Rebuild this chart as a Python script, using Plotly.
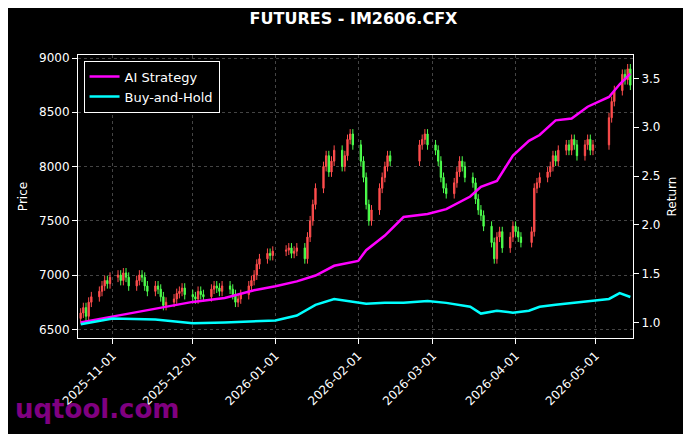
import pandas as pd
import plotly.graph_objects as go

# trading days (weekdays, minus holidays)
days = pd.bdate_range("2025-10-20", "2026-05-14")
holidays = pd.to_datetime(["2026-01-01", "2026-01-02", "2026-02-16", "2026-02-17", "2026-02-18",
                           "2026-02-19", "2026-02-20", "2026-02-23", "2026-04-06",
                           "2026-05-01", "2026-05-04", "2026-05-05"])
days = days[~days.isin(holidays)]

close = [
    # Oct
    6650, 6700, 6620, 6750, 6800, 6850, 6900, 6950, 6920, 6980,
    # Nov
    7000, 6950, 7020, 6980, 6900, 6950, 7000, 6980, 6900, 6850,
    6900, 6870, 6800, 6720, 6750, 6780, 6830, 6850, 6880, 6820,
    # Dec
    6800, 6780, 6850, 6820, 6800, 6870, 6900, 6880, 6850, 6900,
    6870, 6820, 6750, 6780, 6820, 6900, 6950, 7000, 7100, 7150,
    7200, 7180, 7220,
    # Jan
    7230, 7250, 7200, 7220, 7250, 7150, 7350, 7500, 7650, 7800,
    8000, 8100, 7950, 8050, 8150, 8000, 8100, 8250, 8300, 8200,
    # Feb
    8050, 7900, 7650, 7500, 7600, 7800, 7900, 8000, 8100, 8050,
    8200, 8250, 8300, 8200,
    # Mar
    8150, 8050, 7900, 7800, 7750, 7850, 7950, 8050, 8000, 7900,
    7850, 7700, 7600, 7550, 7450, 7300, 7150, 7350, 7400, 7250,
    7350, 7450,
    # Apr
    7400, 7350, 7300, 7400, 7800, 7850, 7900, 7950, 8000, 8100,
    8050, 8150, 8200, 8150, 8250, 8200, 8100, 8200, 8250, 8150,
    8200,
    # May
    8450, 8600, 8700, 8850, 8800, 8900, 8750,
]
open_ = [6600] + close[:-1]
high = [max(o, c) + 45 for o, c in zip(open_, close)]
low = [min(o, c) - 45 for o, c in zip(open_, close)]

ret_dates = pd.to_datetime([
    "2025-10-20", "2025-11-01", "2025-11-17", "2025-12-01", "2025-12-13", "2025-12-24",
    "2026-01-01", "2026-01-09", "2026-01-16", "2026-01-23", "2026-02-01", "2026-02-04",
    "2026-02-11", "2026-02-18", "2026-02-27", "2026-03-06", "2026-03-15", "2026-03-19",
    "2026-03-25", "2026-03-31", "2026-04-06", "2026-04-10", "2026-04-16", "2026-04-22",
    "2026-04-28", "2026-05-06", "2026-05-10", "2026-05-14",
])
ai_ret = [1.00, 1.06, 1.14, 1.21, 1.25, 1.33, 1.37, 1.42, 1.48, 1.58, 1.63, 1.74,
          1.89, 2.08, 2.11, 2.16, 2.29, 2.39, 2.45, 2.71, 2.86, 2.92, 3.07, 3.09,
          3.21, 3.31, 3.44, 3.55]
bh_ret = [0.98, 1.04, 1.03, 0.99, 1.00, 1.01, 1.02, 1.07, 1.18, 1.24, 1.20, 1.19,
          1.20, 1.20, 1.22, 1.20, 1.16, 1.09, 1.12, 1.10, 1.12, 1.16, 1.18, 1.20,
          1.22, 1.24, 1.30, 1.26]

fig = go.Figure()
fig.add_trace(go.Candlestick(
    x=days, open=open_, high=high, low=low, close=close,
    increasing=dict(line=dict(color="#ff4d4d", width=1), fillcolor="#ff4d4d"),
    decreasing=dict(line=dict(color="#4dff4d", width=1), fillcolor="#4dff4d"),
    showlegend=False, whiskerwidth=0,
))
fig.add_trace(go.Scatter(x=ret_dates, y=ai_ret, name="AI Strategy", yaxis="y2",
                         mode="lines", line=dict(color="#ff00ff", width=2.5)))
fig.add_trace(go.Scatter(x=ret_dates, y=bh_ret, name="Buy-and-Hold", yaxis="y2",
                         mode="lines", line=dict(color="#00ffff", width=2.5)))

axis_common = dict(showline=True, linecolor="white", linewidth=1, mirror=True,
                   gridcolor="#444444", griddash="dot", gridwidth=0.5,
                   ticks="outside", tickcolor="white", zeroline=False, automargin=False,
                   tickfont=dict(color="white", size=12))
fig.update_layout(
    width=691, height=434,
    paper_bgcolor="black", plot_bgcolor="black",
    font=dict(family="DejaVu Sans", color="white", size=12),
    title=dict(text="<b>FUTURES - IM2606.CFX</b>", x=0.5, y=0.99, xanchor="center",
               yanchor="top", font=dict(size=16, color="white")),
    margin=dict(l=70, r=66, t=47, b=104),
    xaxis=dict(**axis_common, type="date", range=["2025-10-19", "2026-05-15"],
               dtick="M1", tick0="2025-11-01", tickformat="%Y-%m-%d", tickangle=-45,
               rangeslider=dict(visible=False)),
    yaxis=dict(**axis_common, range=[6420, 9028], dtick=500,
               title=dict(text="Price", font=dict(color="white", size=12), standoff=8)),
    yaxis2=dict(**{k: v for k, v in axis_common.items() if k != "gridcolor"},
                overlaying="y", side="right", range=[0.84, 3.74], dtick=0.5,
                tickformat=".1f", showgrid=False,
                title=dict(text="Return", font=dict(color="white", size=12), standoff=8)),
    legend=dict(x=0.01, y=0.98, xanchor="left", yanchor="top", bgcolor="black",
                bordercolor="white", borderwidth=1, font=dict(color="white", size=13)),
    annotations=[dict(text="<b>uqtool.com</b>", xref="paper", yref="paper",
                      x=-0.117, y=-0.25, xanchor="left", yanchor="middle", showarrow=False,
                      font=dict(size=26, color="#800080"))],
)
fig.write_html("out.html")
